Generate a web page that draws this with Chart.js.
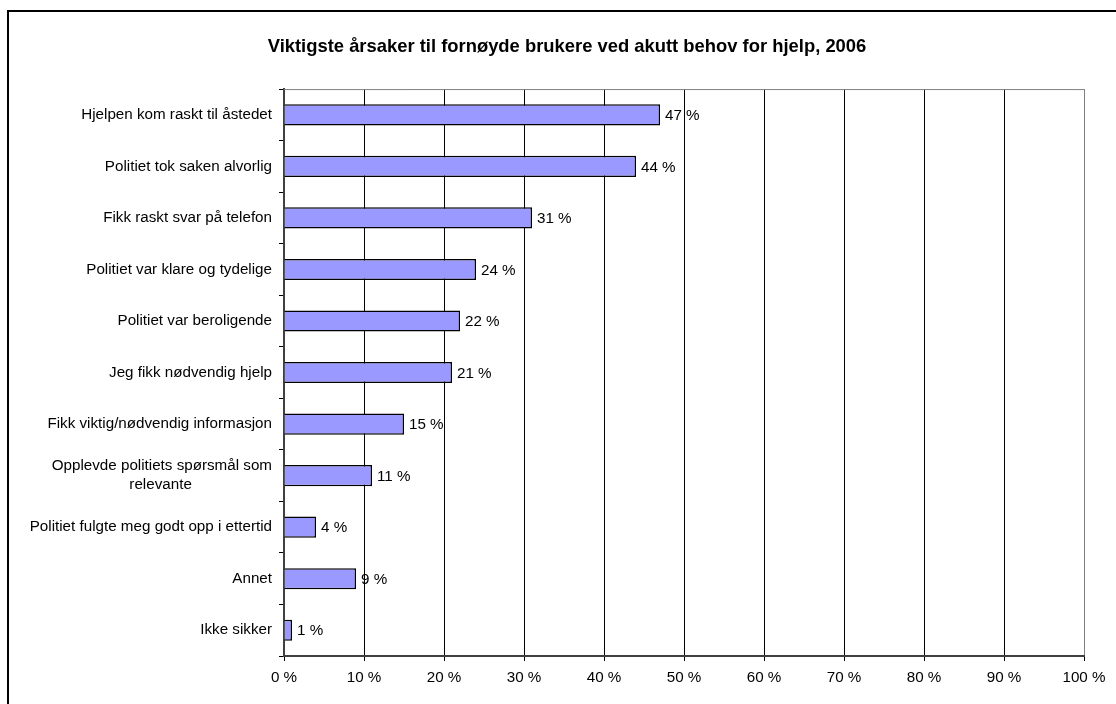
<!DOCTYPE html>
<html><head><meta charset="utf-8">
<script src="https://cdn.jsdelivr.net/npm/chart.js@4.4.1/dist/chart.umd.min.js"></script>
<style>html,body{margin:0;padding:0;background:#fff;}#wrap{width:1116px;height:704px;}</style>
</head><body><div id="wrap"><canvas id="c" width="1116" height="704"></canvas></div>
<script>
const titleText = 'Viktigste årsaker til fornøyde brukere ved akutt behov for hjelp, 2006';
const categories = [
  'Hjelpen kom raskt til åstedet',
  'Politiet tok saken alvorlig',
  'Fikk raskt svar på telefon',
  'Politiet var klare og tydelige',
  'Politiet var beroligende',
  'Jeg fikk nødvendig hjelp',
  'Fikk viktig/nødvendig informasjon',
  ['Opplevde politiets spørsmål som', 'relevante'],
  'Politiet fulgte meg godt opp i ettertid',
  'Annet',
  'Ikke sikker'
];
const values = [47, 44, 31, 24, 22, 21, 15, 11, 4, 9, 1];
const xTickMin = 0, xTickMax = 100, xTickStep = 10;
const unit = ' %';

const FONT = "'Liberation Sans', Arial, sans-serif";
const FS = 15.2;

// centre the second line of wrapped labels under the first (right-aligned axis labels)
const mctx = document.createElement('canvas').getContext('2d');
mctx.font = FS + 'px ' + FONT;
function centreLines(lbl){
  if (!Array.isArray(lbl)) return lbl;
  const w0 = Math.max(...lbl.map(s => mctx.measureText(s).width));
  const sp = mctx.measureText(' ').width;
  return lbl.map(s => s + ' '.repeat(Math.round((w0 - mctx.measureText(s).width) / 2 / sp)));
}

const framePlugin = {
  id: 'frame',
  beforeDraw(chart){
    const c = chart.ctx;
    c.save();
    c.fillStyle = '#fff';
    c.fillRect(0, 0, chart.width, chart.height);
    c.strokeStyle = '#000';
    c.lineWidth = 2;
    c.strokeRect(8, 11, chart.width + 20, chart.height + 20);
    c.restore();
  },
  beforeDatasetsDraw(chart){
    const a = chart.chartArea, c = chart.ctx;
    c.save();
    c.strokeStyle = '#808080';
    c.lineWidth = 1;
    c.beginPath();
    c.moveTo(a.left, a.top + 0.5);
    c.lineTo(a.right, a.top + 0.5);
    c.stroke();
    c.restore();
  }
};

const labelPlugin = {
  id: 'vlabels',
  afterDatasetsDraw(chart){
    const c = chart.ctx;
    const meta = chart.getDatasetMeta(0);
    c.save();
    c.font = FS + 'px ' + FONT;
    c.fillStyle = '#000';
    c.textAlign = 'left';
    c.textBaseline = 'middle';
    meta.data.forEach((bar, i) => {
      c.fillText(values[i] + unit, bar.x + 5, bar.y + 1);
    });
    c.restore();
  }
};

new Chart(document.getElementById('c'), {
  type: 'bar',
  data: {
    labels: categories,
    datasets: [{
      data: values,
      backgroundColor: '#9999FF',
      borderColor: '#000',
      borderWidth: 1.5,
      barPercentage: 0.41,
      categoryPercentage: 1
    }]
  },
  options: {
    indexAxis: 'y',
    responsive: false,
    animation: false,
    devicePixelRatio: 1,
    layout: { padding: { left: 18, right: 0, top: 0, bottom: 0 } },
    plugins: {
      legend: { display: false },
      tooltip: { enabled: false },
      title: {
        display: true,
        text: titleText,
        color: '#000',
        font: { family: FONT, size: 18.4, weight: 'bold' },
        padding: { top: 36, bottom: 31 }
      }
    },
    scales: {
      x: {
        min: xTickMin, max: xTickMax,
        afterFit(s){ s.height = 48; },
        ticks: {
          stepSize: xTickStep,
          color: '#000',
          font: { family: FONT, size: FS },
          padding: 8,
          callback: v => v + unit
        },
        grid: {
          color: ctx => ctx.index === 10 ? '#808080' : '#000',
          tickColor: '#000',
          tickLength: 5,
          lineWidth: 1
        },
        border: { color: '#404040', width: 2 }
      },
      y: {
        afterFit(s){ s.width = 266; },
        ticks: {
          color: '#000',
          font: { family: FONT, size: FS, lineHeight: 1.24 },
          padding: 7,
          autoSkip: false,
          callback(v){ return centreLines(this.getLabelForValue(v)); }
        },
        grid: {
          drawOnChartArea: false,
          drawTicks: true,
          tickLength: 5,
          color: '#000',
          offset: true
        },
        border: { color: '#404040', width: 2 }
      },
      rightMargin: {
        type: 'linear',
        position: 'right',
        display: true,
        afterFit(s){ s.width = 32; },
        ticks: { display: false },
        grid: { display: false, drawTicks: false },
        border: { display: false }
      }
    }
  },
  plugins: [framePlugin, labelPlugin]
});
</script>
</body></html>
